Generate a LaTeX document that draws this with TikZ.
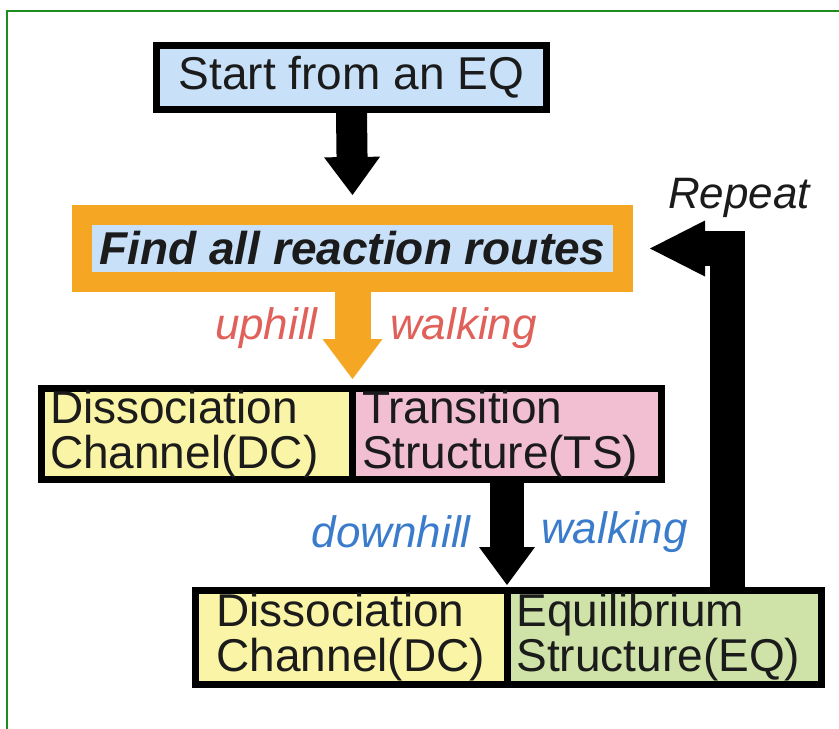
\documentclass[tikz,border=0pt]{standalone}
\usepackage{fontspec}
\setmainfont{Liberation Sans}
\usetikzlibrary{arrows.meta}
\definecolor{frameg}{RGB}{30,140,30}
\definecolor{lblue}{RGB}{200,224,248}
\definecolor{orng}{RGB}{245,166,35}
\definecolor{yel}{RGB}{250,244,166}
\definecolor{pnk}{RGB}{242,191,210}
\definecolor{grn}{RGB}{207,226,168}
\definecolor{redt}{RGB}{224,96,90}
\definecolor{bluet}{RGB}{58,124,203}
\definecolor{txt}{RGB}{27,27,27}
\begin{document}
\begin{tikzpicture}[x=1pt,y=-1pt,
  box/.style={draw=black, line width=7pt, inner sep=0pt, text=txt,
    font=\fontsize{46}{45}\selectfont},
  twoline/.style={box, align=left, minimum height=91pt},
  lbl/.style={inner sep=0pt, font=\itshape\fontsize{44}{44}\selectfont},
  bigarrow/.style={line width=31pt,
    -{Triangle[width=56pt,length=38pt,line width=0pt]}},
  frameline/.style={draw=frameg, line width=2pt}
]
\useasboundingbox (0,0) rectangle (839,729);
\draw[frameline] (6.5,729) -- (6.5,10.5) -- (839,10.5);

\node[box, fill=lblue, minimum width=390pt, minimum height=64pt] (start) at (351.5,77.5) {Start from an EQ};

\node[draw=orng, line width=20pt, fill=lblue, inner sep=0pt, text=txt,
  minimum width=541pt, minimum height=67pt,
  font=\bfseries\itshape\fontsize{46}{46}\selectfont] (find) at (352.5,248.5) {Find all reaction routes};

\node[twoline, fill=yel, minimum width=311pt, text width=294pt] (dc1) at (197,434) {Dissociation\\Channel(DC)};
\node[twoline, fill=pnk, minimum width=309pt, text width=290pt] (ts) at (507,434) {Transition\\Structure(TS)};

\node[twoline, fill=yel, minimum width=312pt, minimum height=94pt, text width=270pt] (dc2) at (351.5,637.5) {Dissociation\\Channel(DC)};
\node[twoline, fill=grn, minimum width=314pt, minimum height=94pt, text width=296pt] (eq) at (664.5,637.5) {Equilibrium\\Structure(EQ)};

\node[lbl, text=redt, anchor=east] (up) at (318,328) {uphill};
\node[lbl, text=redt, anchor=west] (wk1) at (390,328) {walking};
\node[lbl, text=bluet, anchor=east] (down) at (471,532) {downhill};
\node[lbl, text=bluet, anchor=west] (wk2) at (541,532) {walking};
\node[lbl, text=txt, anchor=west] (rep) at (668,198) {Repeat};

\coordinate (rp) at (727,0);

\draw[bigarrow] (start.south) -- ([yshift=10pt]find.north);
\draw[bigarrow, draw=orng, line width=36pt,
  -{Triangle[width=60pt,length=40pt,line width=0pt]}]
  (find.south) -- ([yshift=6pt]find.south |- dc1.north);
\draw[bigarrow, line width=34pt] (ts.south) -- ([yshift=2pt]ts.south |- dc2.north);
\draw[bigarrow, line width=35pt,
  -{Triangle[width=56pt,length=55pt,line width=0pt]}]
  (rp |- eq.north) |- ([xshift=17pt]find.east);
\end{tikzpicture}
\end{document}
